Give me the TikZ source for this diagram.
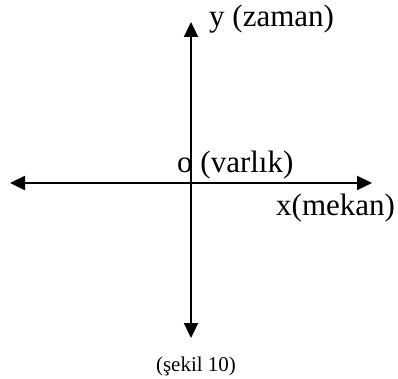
\documentclass[tikz,border=0pt]{standalone}
\usepackage{fontspec}
\setmainfont{Liberation Serif}
\usetikzlibrary{arrows.meta}

\begin{document}
\begin{tikzpicture}[
    x=1pt, y=1pt,
    axisarr/.style={{Triangle[length=15pt,width=14pt]}-{Triangle[length=15pt,width=14pt]}, line width=2.3pt},
    lbl/.style={inner sep=0pt, anchor=base west, font=\fontsize{31}{36}\selectfont},
    figcaption/.style={inner sep=0pt, anchor=base, font=\fontsize{21}{24}\selectfont}
    ]
    \useasboundingbox (0,0) rectangle (398,378);
    % axes
    \coordinate (origin) at (191,195);
    \coordinate (top)    at (191,356);
    \coordinate (bottom) at (191,40);
    \coordinate (left)   at (10,195);
    \coordinate (right)  at (372,195);
    \draw[axisarr] (bottom) -- (top);
    \draw[axisarr] (left)   -- (right);
    % labels
    \node[lbl] (ylab) at (209,351) {y (zaman)};
    \node[lbl] (olab) at (177,206) {o (varlık)};
    \node[lbl] (xlab) at (276,163) {x(mekan)};
    \node[figcaption] (fig)  at (196,7)   {(şekil 10)};
\end{tikzpicture}
\end{document}
